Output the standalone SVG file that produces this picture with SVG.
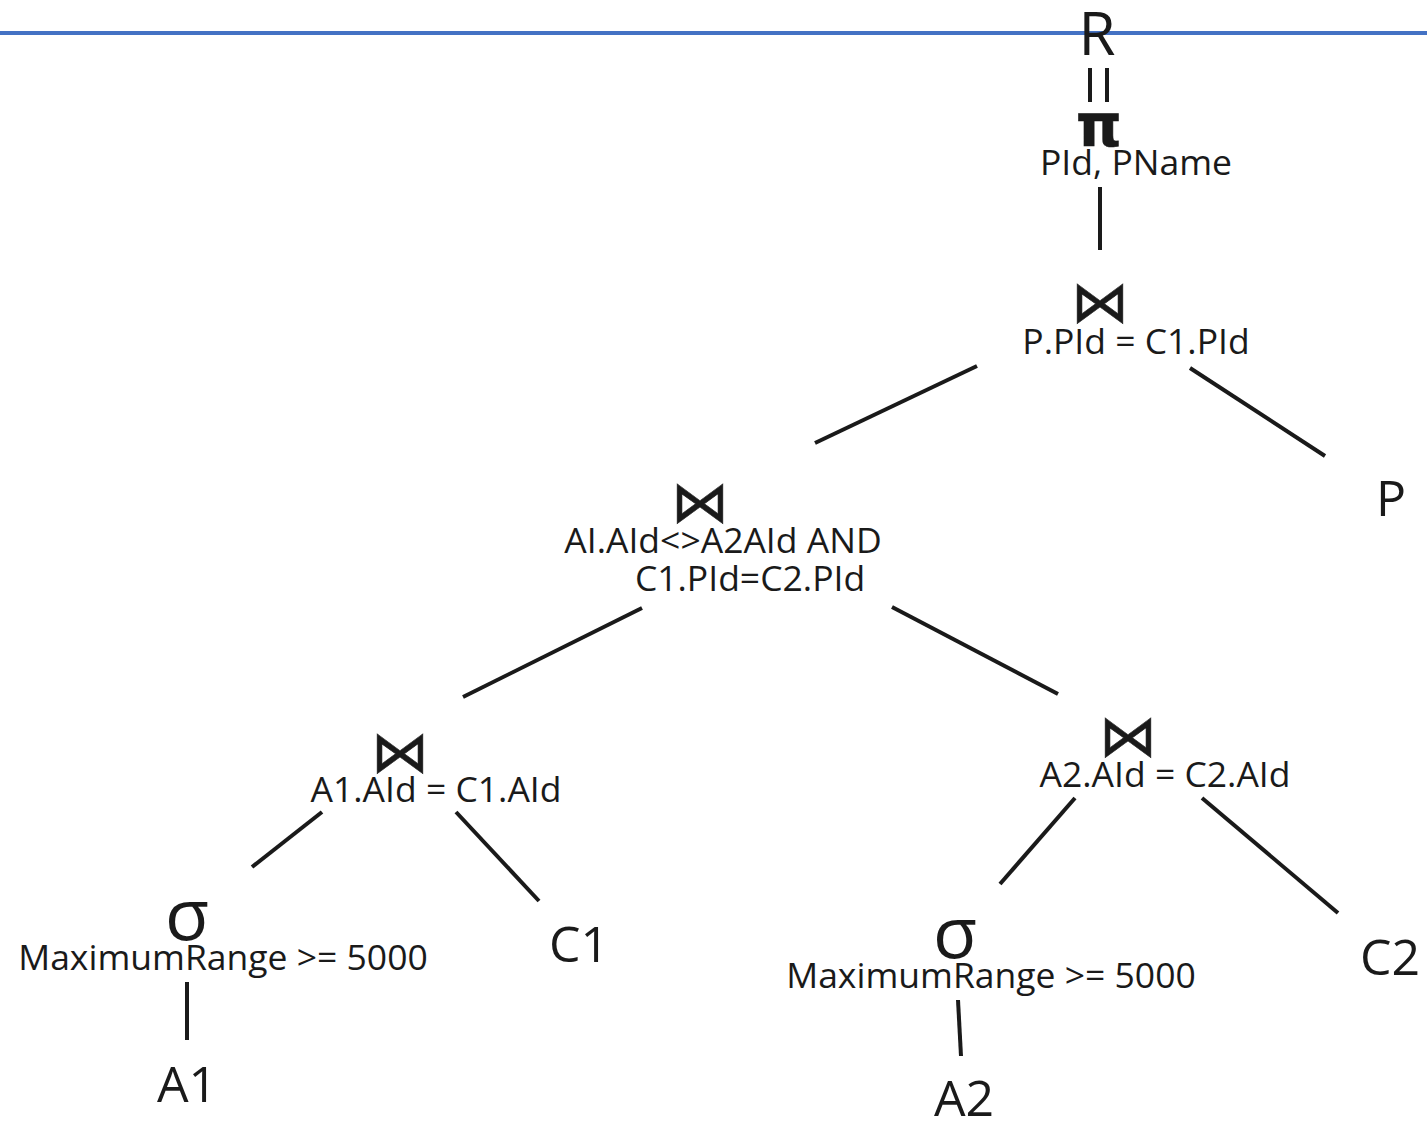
<svg xmlns="http://www.w3.org/2000/svg" width="1427" height="1122" viewBox="0 0 1427 1122">
<style>
.t{font-family:"Open Sans","Noto Sans",sans-serif;fill:#1a1a1a;text-anchor:middle}
.lbl{font-size:35.5px}
.big{font-size:50px}
.sym{font-family:"DejaVu Sans",sans-serif;font-size:58px;fill:#1a1a1a;stroke:#1a1a1a;stroke-width:0.6;text-anchor:middle}
.sig{font-size:72px}
.c{stroke:#1a1a1a;stroke-width:4;fill:none}
</style>
<rect width="1427" height="1122" fill="#fff"/>
<line x1="0" y1="33" x2="1427" y2="33" stroke="#4472C4" stroke-width="4"/>
<g id="connectors">
<line class="c" x1="1090" y1="68" x2="1090" y2="102"/>
<line class="c" x1="1107" y1="68" x2="1107" y2="102"/>
<line class="c" x1="1100" y1="187" x2="1100" y2="250"/>
<line class="c" x1="977" y1="366" x2="815" y2="443"/>
<line class="c" x1="1190" y1="368" x2="1325" y2="456"/>
<line class="c" x1="642" y1="608" x2="463" y2="697"/>
<line class="c" x1="892" y1="607" x2="1058" y2="694"/>
<line class="c" x1="322" y1="812" x2="252" y2="867"/>
<line class="c" x1="456" y1="812" x2="539" y2="901"/>
<line class="c" x1="187" y1="982" x2="187" y2="1040"/>
<line class="c" x1="1075" y1="798" x2="1000" y2="884"/>
<line class="c" x1="1202" y1="798" x2="1338" y2="913"/>
<line class="c" x1="958" y1="1000" x2="961" y2="1056"/>
</g>
<g id="R"><text class="t" x="1097" y="55" font-size="60">R</text></g>
<g id="project">
<text class="sym" x="1099" y="146" font-size="66" font-weight="bold" stroke-width="0">π</text>
<text class="t lbl" x="1136" y="175">PId, PName</text>
</g>
<g id="join1">
<text class="sym" x="1100" y="322">⋈</text>
<text class="t lbl" x="1136" y="354">P.PId = C1.PId</text>
</g>
<g id="P"><text class="t big" x="1391" y="516">P</text></g>
<g id="join2">
<text class="sym" x="700" y="522">⋈</text>
<text class="t lbl" x="723" y="553">AI.AId&lt;&gt;A2AId AND</text>
<text class="t lbl" x="750" y="591">C1.PId=C2.PId</text>
</g>
<g id="join3">
<text class="sym" x="400" y="772">⋈</text>
<text class="t lbl" x="436" y="802">A1.AId = C1.AId</text>
</g>
<g id="join4">
<text class="sym" x="1128" y="756">⋈</text>
<text class="t lbl" x="1165" y="787">A2.AId = C2.AId</text>
</g>
<g id="select1">
<text class="t sig" x="187" y="940">σ</text>
<text class="t lbl" x="223" y="970">MaximumRange &gt;= 5000</text>
</g>
<g id="select2">
<text class="t sig" x="955" y="958">σ</text>
<text class="t lbl" x="991" y="988">MaximumRange &gt;= 5000</text>
</g>
<g id="A1"><text class="t big" x="187" y="1102">A1</text></g>
<g id="C1"><text class="t big" x="579" y="962">C1</text></g>
<g id="A2"><text class="t big" x="964" y="1116">A2</text></g>
<g id="C2"><text class="t big" x="1390" y="975">C2</text></g>
</svg>
